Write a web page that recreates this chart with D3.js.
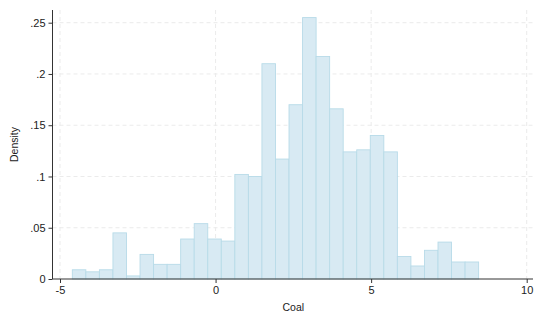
<!DOCTYPE html>
<html>
<head>
<meta charset="utf-8">
<script src="https://cdn.jsdelivr.net/npm/d3@7"></script>
<style>
  body { margin: 0; background: #fff; }
  text { font-family: "Liberation Sans", Arial, sans-serif; }
</style>
</head>
<body>
<svg id="chart" width="534" height="320"></svg>
<script>
// histogram of Coal, 30 bins
var binStart = -4.604;
var binWidth = 0.4353;
var density = [0.009, 0.007, 0.009, 0.045, 0.003, 0.024, 0.0143, 0.0143, 0.039, 0.054,
               0.039, 0.037, 0.102, 0.100, 0.210, 0.117, 0.170, 0.255, 0.217, 0.166,
               0.124, 0.126, 0.140, 0.124, 0.022, 0.0127, 0.028, 0.036, 0.0166, 0.0166];
var xTicks = [-5, 0, 5, 10];
var xTickLabels = ["-5", "0", "5", "10"];
var yTicks = [0, 0.05, 0.1, 0.15, 0.2, 0.25];
var yTickLabels = ["0", ".05", ".1", ".15", ".2", ".25"];

var svg = d3.select("#chart");

var x = d3.scaleLinear().domain([-5, 10]).range([60, 526.7]);
var y = d3.scaleLinear().domain([0, 0.25]).range([279, 22.7]);

var plotL = 52.5, plotR = 533, plotT = 10, plotB = 279;

// grid
var grid = svg.append("g").attr("stroke", "#ebebeb").attr("stroke-width", 1)
    .attr("stroke-dasharray", "4,3");
grid.selectAll("line.h").data(yTicks.slice(1)).enter().append("line")
    .attr("x1", plotL).attr("x2", plotR)
    .attr("y1", function (d) { return y(d); }).attr("y2", function (d) { return y(d); });
grid.selectAll("line.v").data(xTicks).enter().append("line")
    .attr("y1", plotT).attr("y2", plotB)
    .attr("x1", function (d) { return x(d); }).attr("x2", function (d) { return x(d); });

// bars
svg.append("g").selectAll("rect").data(density).enter().append("rect")
    .attr("x", function (d, i) { return x(binStart + i * binWidth); })
    .attr("width", function (d, i) { return x(binStart + (i + 1) * binWidth) - x(binStart + i * binWidth); })
    .attr("y", function (d) { return y(d); })
    .attr("height", function (d) { return y(0) - y(d); })
    .attr("fill", "#d8eaf3")
    .attr("stroke", "#b8dbe8")
    .attr("stroke-width", 0.9);

// axes
var xAxis = d3.axisBottom(x).tickValues(xTicks).tickSize(4).tickPadding(3)
    .tickFormat(function (d, i) { return xTickLabels[i]; });
var gx = svg.append("g").attr("transform", "translate(0," + plotB + ")").call(xAxis);
gx.select(".domain").attr("d", "M" + plotL + ",0H" + plotR);
var yAxis = d3.axisLeft(y).tickValues(yTicks).tickSize(4).tickPadding(3)
    .tickFormat(function (d, i) { return yTickLabels[i]; });
var gy = svg.append("g").attr("transform", "translate(" + plotL + ",0)").call(yAxis);
gy.select(".domain").attr("d", "M0," + plotT + "V" + plotB);

[gx, gy].forEach(function (g) {
    g.attr("color", "#333");
    g.selectAll(".tick text").attr("fill", "#222").style("font-size", "11px")
        .style("font-family", "'Liberation Sans', Arial, sans-serif");
});

svg.append("text")
    .attr("x", x(2.5)).attr("y", 311)
    .attr("text-anchor", "middle").attr("fill", "#222")
    .style("font-size", "10.5px").text("Coal");
svg.append("text")
    .attr("transform", "translate(18," + ((plotT + plotB) / 2) + ") rotate(-90)")
    .attr("text-anchor", "middle").attr("fill", "#222")
    .style("font-size", "10.5px").text("Density");
</script>
</body>
</html>
